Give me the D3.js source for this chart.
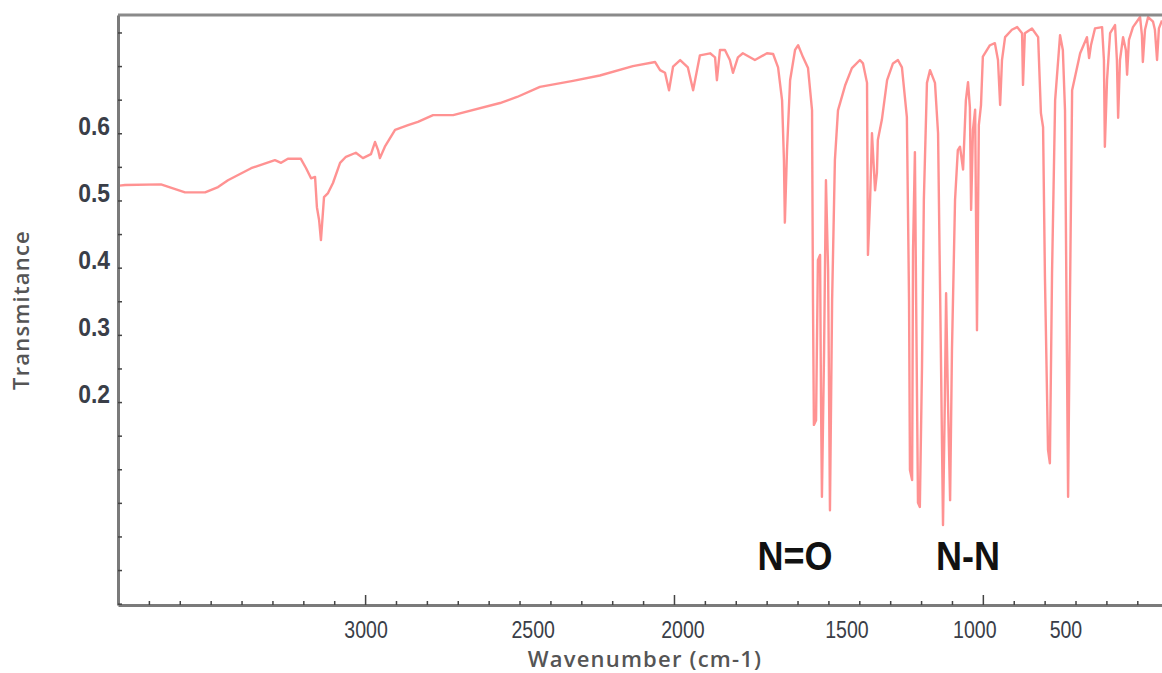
<!DOCTYPE html>
<html>
<head>
<meta charset="utf-8">
<script src="https://cdnjs.cloudflare.com/ajax/libs/d3/7.8.5/d3.min.js"></script>
<style>
body {
  margin: 0;
  background-color: white;
}
.axis path {
  fill: none;
  stroke: #7a7a7a;
  stroke-width: 3;
}
.axis line {
  stroke: #444;
  stroke-width: 1.5;
}
.ylab {
  font-family: "Liberation Sans", sans-serif;
  font-weight: bold;
  font-size: 26px;
  fill: #3a3e48;
}
.xlab {
  font-family: "Liberation Sans", sans-serif;
  font-size: 23px;
  fill: #3a3e48;
}
.title {
  font-family: "Open Sans", sans-serif;
  font-weight: 600;
  font-size: 22px;
  letter-spacing: 1.2px;
  fill: #555;
}
.band {
  font-family: "Liberation Sans", sans-serif;
  font-weight: bold;
  font-size: 40px;
  fill: #111;
}
</style>
</head>
<body>
<script>
// spectrum: wavenumber (cm-1) and transmittance
const wavenumber = [
  3795, 3777, 3661, 3583, 3518, 3476, 3444, 3369, 3292, 3272, 3250, 3208, 3191, 3175, 3162, 3156,
  3149, 3143, 3133, 3120, 3104, 3081, 3062, 3030, 3007, 2981, 2968, 2958, 2952, 2936, 2903, 2861,
  2829, 2780, 2715, 2563, 2508, 2434, 2327, 2240, 2133, 2061, 2045, 2029, 2016, 2003, 1980, 1955,
  1938, 1916, 1883, 1867, 1861, 1851, 1835, 1819, 1809, 1793, 1777, 1738, 1699, 1679, 1663, 1650,
  1644, 1641, 1634, 1624, 1608, 1598, 1582, 1566, 1553, 1550, 1547, 1540, 1534, 1527, 1524, 1521,
  1514, 1508, 1501, 1495, 1488, 1479, 1469, 1446, 1424, 1398, 1388, 1375, 1372, 1365, 1359, 1349,
  1343, 1340, 1327, 1310, 1291, 1275, 1262, 1246, 1239, 1236, 1229, 1226, 1220, 1216, 1210, 1204,
  1197, 1191, 1181, 1171, 1155, 1145, 1136, 1129, 1123, 1119, 1113, 1106, 1100, 1090, 1081, 1074,
  1064, 1055, 1048, 1042, 1038, 1032, 1025, 1019, 1013, 1006, 1000, 977, 961, 951, 944, 938,
  928, 906, 889, 873, 870, 864, 841, 821, 812, 805, 799, 789, 783, 776, 766, 750,
  741, 734, 728, 724, 718, 711, 685, 663, 656, 650, 637, 614, 608, 605, 598, 588,
  572, 566, 562, 556, 546, 537, 533, 527, 514, 491, 485, 482, 475, 465, 449, 443,
  436, 430, 420
];
const transmittance = [
  0.522, 0.523, 0.524, 0.512, 0.512, 0.520, 0.530, 0.548, 0.560, 0.556, 0.562, 0.562, 0.548, 0.533, 0.535, 0.490,
  0.471, 0.441, 0.505, 0.511, 0.526, 0.556, 0.565, 0.571, 0.563, 0.569, 0.587, 0.575, 0.563, 0.580, 0.605, 0.612,
  0.617, 0.627, 0.627, 0.645, 0.654, 0.669, 0.678, 0.686, 0.700, 0.706, 0.694, 0.690, 0.664, 0.699, 0.709, 0.698,
  0.664, 0.716, 0.719, 0.713, 0.679, 0.724, 0.724, 0.709, 0.690, 0.713, 0.719, 0.709, 0.719, 0.718, 0.698, 0.649,
  0.560, 0.467, 0.575, 0.679, 0.724, 0.731, 0.713, 0.697, 0.634, 0.352, 0.166, 0.173, 0.411, 0.419, 0.203, 0.059,
  0.277, 0.530, 0.396, 0.039, 0.352, 0.560, 0.634, 0.671, 0.697, 0.709, 0.704, 0.675, 0.419, 0.501, 0.600, 0.515,
  0.541, 0.590, 0.620, 0.679, 0.704, 0.709, 0.698, 0.624, 0.352, 0.099, 0.084, 0.426, 0.572, 0.352, 0.050, 0.044,
  0.252, 0.501, 0.675, 0.694, 0.675, 0.600, 0.277, 0.017, 0.203, 0.362, 0.203, 0.054, 0.277, 0.501, 0.575, 0.580,
  0.546, 0.649, 0.676, 0.639, 0.486, 0.605, 0.635, 0.307, 0.612, 0.642, 0.714, 0.731, 0.734, 0.709, 0.642, 0.709,
  0.743, 0.754, 0.758, 0.749, 0.672, 0.749, 0.756, 0.743, 0.630, 0.609, 0.386, 0.129, 0.109, 0.392, 0.649, 0.746,
  0.724, 0.634, 0.277, 0.059, 0.352, 0.664, 0.719, 0.743, 0.712, 0.731, 0.756, 0.758, 0.709, 0.580, 0.679, 0.749,
  0.761, 0.709, 0.623, 0.709, 0.743, 0.724, 0.687, 0.739, 0.758, 0.773, 0.746, 0.706, 0.754, 0.773, 0.766, 0.754,
  0.709, 0.756, 0.768
];

// axis labels; the picture sets the x labels a little off their ticks
const xTickLabels = [3000, 2500, 2000, 1500, 1000, 500];
const xLabelAt = [2997, 2456, 1971, 1440, 1026, 731];
const yTickLabels = [0.6, 0.5, 0.4, 0.3, 0.2];

// band annotations
const bandNames = ["N=O", "N-N"];
const bandWn = [1608, 1048];
const bandT = [-0.029, -0.029];

const svg = d3.select("body")
              .append("svg")
              .attr("width", 1162)
              .attr("height", 673);

const margin = {top: 15, right: 0, bottom: 68, left: 118};
const width = +svg.attr("width") - margin.left - margin.right;
const height = +svg.attr("height") - margin.top - margin.bottom;
const g = svg.append("g")
             .attr("transform", `translate(${margin.left}, ${margin.top})`);

const xScale = d3.scaleLinear()
                 .domain([3800, 420])
                 .range([0, width]);

const yScale = d3.scaleLinear()
                 .domain([-0.102, 0.776])
                 .range([height, 0]);

const spectrum = wavenumber.map((w, i) => [w, transmittance[i]]);

const line = d3.line()
               .x(d => xScale(d[0]))
               .y(d => yScale(d[1]));

g.append("path")
 .datum(spectrum)
 .attr("fill", "none")
 .attr("stroke", "#ff4a4a")
 .attr("stroke-opacity", 0.6)
 .attr("stroke-width", 2.4)
 .attr("stroke-linejoin", "round")
 .attr("d", line);

// top frame line
g.append("line")
 .attr("x1", 0)
 .attr("x2", width)
 .attr("y1", 0)
 .attr("y2", 0)
 .attr("stroke", "#8a8a8a")
 .attr("stroke-width", 3);

// bottom axis: minor ticks every 100, longer ones every 1000
const minorX = d3.range(500, 3801, 100).filter(v => v % 1000 !== 0);
const majorX = [3000, 2000, 1000];

g.append("g")
 .attr("class", "axis")
 .attr("transform", `translate(0, ${height})`)
 .call(d3.axisBottom(xScale).tickValues(minorX).tickSize(-4).tickSizeOuter(0).tickFormat(""));

g.append("g")
 .attr("class", "axis")
 .attr("transform", `translate(0, ${height})`)
 .call(d3.axisBottom(xScale).tickValues(majorX).tickSize(-10).tickSizeOuter(0).tickFormat(""))
 .select(".domain").remove();

// left axis: ticks every 0.05
g.append("g")
 .attr("class", "axis")
 .call(d3.axisLeft(yScale).tickValues(d3.range(-0.1, 0.76, 0.05)).tickSize(-4).tickSizeOuter(0).tickFormat(""));

// tick labels (narrowed to look like the condensed face in the picture)
g.selectAll(".ylab")
 .data(yTickLabels)
 .enter().append("text")
 .attr("class", "ylab")
 .attr("transform", d => `translate(-8, ${yScale(d)}) scale(0.88, 1)`)
 .attr("dy", "0.05em")
 .attr("text-anchor", "end")
 .text(d => d.toFixed(1));

g.selectAll(".xlab")
 .data(xTickLabels)
 .enter().append("text")
 .attr("class", "xlab")
 .attr("transform", (d, i) => `translate(${xScale(xLabelAt[i])}, ${height + 33}) scale(0.85, 1)`)
 .attr("text-anchor", "middle")
 .text(d => d);

// axis titles
svg.append("text")
   .attr("class", "title")
   .attr("x", 645)
   .attr("y", 667)
   .attr("text-anchor", "middle")
   .text("Wavenumber (cm-1)");

svg.append("text")
   .attr("class", "title")
   .attr("transform", `translate(29, ${margin.top + yScale(0.337)}) rotate(-90)`)
   .attr("text-anchor", "middle")
   .text("Transmitance");

// band annotations
g.selectAll(".band")
 .data(bandNames)
 .enter().append("text")
 .attr("class", "band")
 .attr("transform", (d, i) => `translate(${xScale(bandWn[i])}, ${yScale(bandT[i])}) scale(0.9, 1)`)
 .attr("dy", "0.35em")
 .attr("text-anchor", "middle")
 .text(d => d);
</script>
</body>
</html>
